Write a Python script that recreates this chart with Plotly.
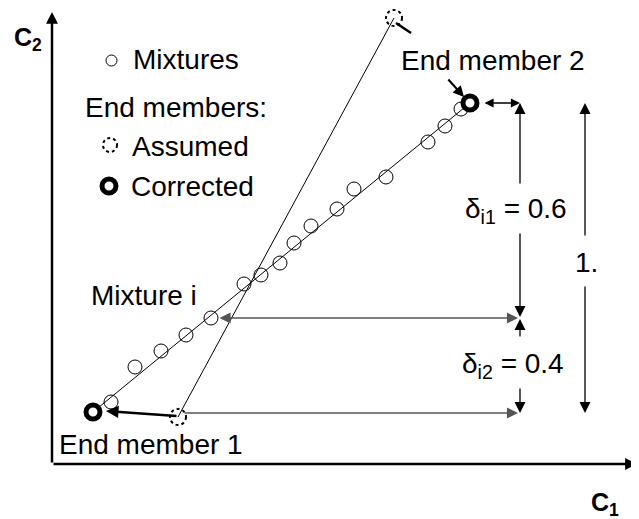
import plotly.graph_objects as go

H = 519  # helper: C2 data units = 519 - screen row (diagram units)

# ---- data (diagram units: C1 to the right, C2 upward) ----
mix_c1 = [111, 135, 161, 186, 211, 244, 261, 280, 294, 311, 337, 354, 386, 428, 445, 461]
mix_c2 = [117, 152, 168, 184, 201, 235, 244, 256, 276, 293, 310, 330, 342, 377, 393, 410]
corr_c1 = [93, 470]          # corrected end members 1, 2
corr_c2 = [107, 416]
asm_c1 = [178, 394]          # assumed end members 1, 2
asm_c2 = [102, 501]
mix_i = 4                    # index of "Mixture i"
delta_labels = ["δ<sub>i1</sub> = 0.6", "δ<sub>i2</sub> = 0.4", "1."]

FONT = "Liberation Sans, Arial, sans-serif"
FS = 28

fig = go.Figure()

fig.add_trace(go.Scatter(x=corr_c1, y=corr_c2, mode="lines",
                         line=dict(color="black", width=1), hoverinfo="skip"))
fig.add_trace(go.Scatter(x=asm_c1, y=asm_c2, mode="lines",
                         line=dict(color="black", width=1), hoverinfo="skip"))
fig.add_trace(go.Scatter(x=mix_c1, y=mix_c2, mode="markers",
                         marker=dict(symbol="circle-open", size=14, color="black",
                                     line=dict(width=1)), hoverinfo="skip"))
fig.add_trace(go.Scatter(x=corr_c1, y=corr_c2, mode="markers",
                         marker=dict(symbol="circle", size=14, color="white",
                                     line=dict(width=5, color="black")), hoverinfo="skip"))

shapes = []
for cx, cy in zip(asm_c1, asm_c2):
    r = 8
    shapes.append(dict(type="circle", xref="x", yref="y", x0=cx - r, x1=cx + r,
                       y0=cy - r, y1=cy + r, line=dict(color="black", width=2, dash="dot")))

shapes.append(dict(type="line", xref="x", yref="y", x0=asm_c1[1] + 2, y0=asm_c2[1] - 5,
                   x1=asm_c1[1] + 17, y1=asm_c2[1] - 15, line=dict(color="black", width=2.5)))

# legend glyphs
shapes.append(dict(type="circle", xref="x", yref="y", x0=106, x1=117, y0=H - 66, y1=H - 55,
                   line=dict(color="black", width=1)))
shapes.append(dict(type="circle", xref="x", yref="y", x0=103, x1=117, y0=H - 152, y1=H - 138,
                   line=dict(color="black", width=2, dash="dot")))
shapes.append(dict(type="circle", xref="x", yref="y", x0=102, x1=116, y0=H - 193, y1=H - 179,
                   line=dict(color="black", width=5), fillcolor="white"))

ann = []


def arrow(x0, y0, x1, y1, width=1.3, size=1.7, both=False, color="black", head=2):
    a = dict(x=x1, y=y1, ax=x0, ay=y0, xref="x", yref="y", axref="x", ayref="y",
             showarrow=True, arrowhead=head, arrowsize=size, arrowwidth=width,
             arrowcolor=color, text="")
    if both:
        a.update(arrowside="end+start", startarrowhead=head, startarrowsize=size)
    ann.append(a)


def text(x, y, t, size=FS, bold=False):
    if bold:
        t = "<b>" + t + "</b>"
    ann.append(dict(x=x, y=y, xref="x", yref="y", text=t, showarrow=False,
                    font=dict(family=FONT, size=size, color="black")))


# axes
arrow(52, H - 464, 52, H - 12, width=2.5, size=0.95)
arrow(52, H - 464, 637, H - 464, width=2.5, size=0.95)

arrow(asm_c1[0], asm_c2[0] + 1, corr_c1[0] + 13, corr_c2[0] + 1, width=2.5, size=1.0)
arrow(447, H - 78, corr_c1[1] - 6, corr_c2[1] + 6, width=2.2, size=1.0)

xd = 520
xt = 585
top, mid, bot = corr_c2[1], mix_c2[mix_i], corr_c2[0] - 1

arrow(corr_c1[1] + 13, top, xd, top, both=True, size=1.4)
arrow(xd, H - 185, xd, top)
arrow(xd, H - 232, xd, mid + 1)
arrow(xd, H - 338, xd, mid - 1)
arrow(xd, H - 387, xd, bot)
arrow(mix_c1[mix_i] + 7, mid, xd - 2, mid, both=True, color="#555555")
arrow(asm_c1[0] + 5, bot, xd - 2, bot, color="#555555")
arrow(xt, H - 237, xt, top)
arrow(xt, H - 285, xt, bot)

text(186, H - 59, "Mixtures")
text(176, H - 107, "End members:")
text(190, H - 146, "Assumed")
text(192, H - 186, "Corrected")
text(493, H - 60, "End member 2")
text(516, H - 210, delta_labels[0])
text(513, H - 365, delta_labels[1])
text(586, H - 262, delta_labels[2])
text(144, H - 295, "Mixture i")
text(151, H - 444, "End member 1")
text(28, H - 39, "C<sub>2</sub>", size=25, bold=True)
text(605, H - 504, "C<sub>1</sub>", size=25, bold=True)

# the page body has an 8px margin; size and range the figure so that
# diagram units coincide with window pixels
fig.update_layout(
    width=631, height=511, margin=dict(l=0, r=0, t=0, b=0),
    paper_bgcolor="white", plot_bgcolor="white", showlegend=False,
    xaxis=dict(range=[8, 639], visible=False, fixedrange=True),
    yaxis=dict(range=[0, 511], visible=False, fixedrange=True),
    shapes=shapes, annotations=ann,
)

fig.write_html("out.html")
